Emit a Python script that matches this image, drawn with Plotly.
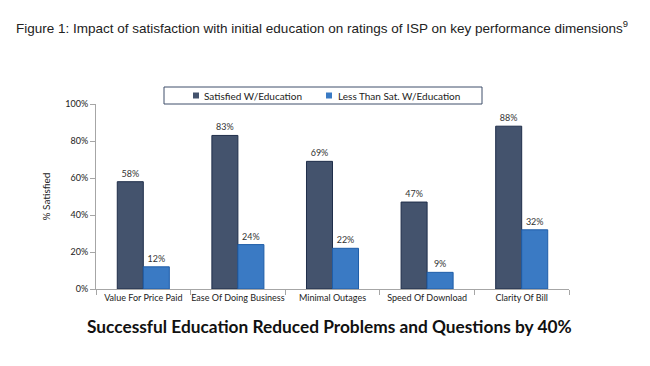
import plotly.graph_objects as go

categories = ["Value For Price Paid", "Ease Of Doing Business", "Minimal Outages", "Speed Of Download", "Clarity Of Bill"]
satisfied = [58, 83, 69, 47, 88]
less_sat = [12, 24, 22, 9, 32]
series_names = ["Satisfied W/Education", "Less Than Sat. W/Education"]
y_ticks = [0, 20, 40, 60, 80, 100]
y_tick_labels = [f"{v}%" for v in y_ticks]

dark = "#44536D"
light = "#3A7AC4"
font_small = "Lato, Open Sans, sans-serif"

W, H = 650, 366
ML, MR, MT, MB = 88, 89, 96, 85
PW, PH = W - ML - MR, H - MT - MB


def px(x):
    return (x - ML) / PW


def py(y):
    return (H - MB - y) / PH


fig = go.Figure()
fig.add_bar(x=categories, y=satisfied, name=series_names[0],
            marker=dict(color=dark, line=dict(color="#1F2E4A", width=1)),
            text=[f"{v}%" for v in satisfied], textposition="outside",
            textfont=dict(size=9, color="#333333", family=font_small), cliponaxis=False)
fig.add_bar(x=categories, y=less_sat, name=series_names[1],
            marker=dict(color=light, line=dict(color="#1E5DA8", width=1)),
            text=[f"{v}%" for v in less_sat], textposition="outside",
            textfont=dict(size=9, color="#333333", family=font_small), cliponaxis=False)

fig.update_layout(
    width=W, height=H,
    margin=dict(l=ML, r=MR, t=MT, b=MB),
    paper_bgcolor="white", plot_bgcolor="white",
    barmode="group", bargap=0.45, bargroupgap=0,
    showlegend=False,
    font=dict(family=font_small, color="#333333"),
)
fig.update_xaxes(showline=True, linecolor="#A6A6A6", linewidth=1, ticks="outside",
                 tickson="boundaries", ticklen=5, tickcolor="#A6A6A6", tickangle=0,
                 tickfont=dict(size=9, family=font_small, color="#222222"), showgrid=False,
                 automargin=False)
fig.update_yaxes(range=[0, 100], tickvals=y_ticks, ticktext=y_tick_labels,
                 showline=True, linecolor="#A6A6A6", linewidth=1, ticks="outside",
                 ticklen=5, tickcolor="#A6A6A6", showgrid=False, zeroline=False,
                 tickfont=dict(size=9, family=font_small, color="#222222"),
                 title=dict(text="% Satisfied", font=dict(size=10, family=font_small, color="#222222"),
                            standoff=12), automargin=False)

# legend (drawn as box + swatches + labels)
fig.add_shape(type="rect", xref="paper", yref="paper", x0=px(156), x1=px(474), y0=py(96), y1=py(79),
              line=dict(color="#3F4F6A", width=1), fillcolor="white", layer="above")
for name, color, sx, tx in [(series_names[0], dark, 185, 194), (series_names[1], light, 318, 328)]:
    fig.add_shape(type="rect", xref="paper", yref="paper", x0=px(sx), x1=px(sx + 6),
                  y0=py(90.5), y1=py(84.5), line=dict(color=color, width=0), fillcolor=color, layer="above")
    fig.add_annotation(text=name, xref="paper", yref="paper", x=px(tx), y=py(87.5),
                       xanchor="left", yanchor="middle", showarrow=False,
                       font=dict(size=10, family=font_small, color="#222222"))

fig.add_annotation(text="Figure 1: Impact of satisfaction with initial education on ratings of ISP on key performance dimensions<sup>9</sup>",
                   xref="paper", yref="paper", x=px(6), y=py(19),
                   xanchor="left", yanchor="middle", showarrow=False,
                   font=dict(size=13.5, family="Liberation Sans, Arial, sans-serif", color="#222222"))
fig.add_annotation(text="<b>Successful Education Reduced Problems and Questions by 40%</b>",
                   xref="paper", yref="paper", x=px(321), y=py(318),
                   xanchor="center", yanchor="middle", showarrow=False,
                   font=dict(size=17.3, family="Lato, Open Sans, sans-serif", color="#111111"))

fig.write_html("out.html")
